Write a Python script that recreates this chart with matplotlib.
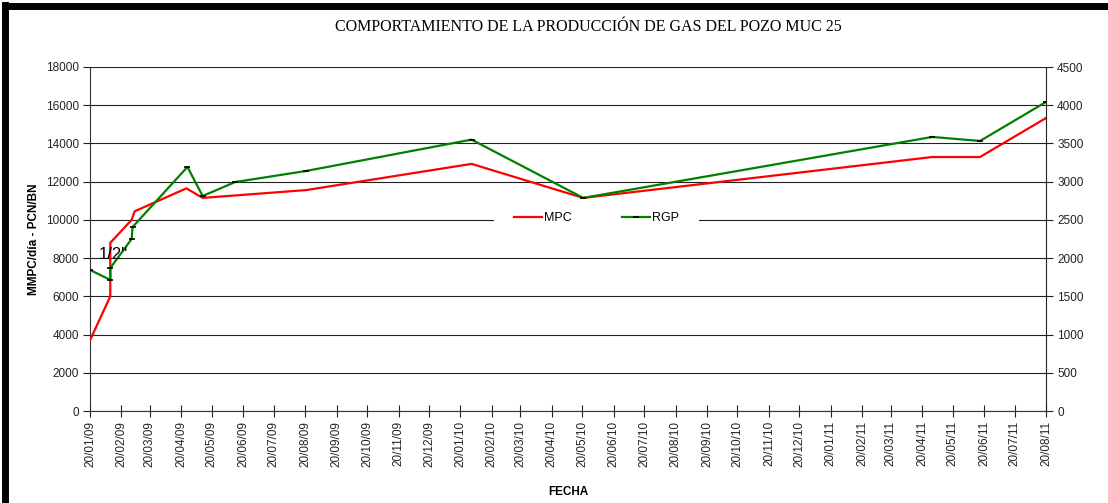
import matplotlib
matplotlib.use("Agg")
import matplotlib.pyplot as plt
import matplotlib.dates as mdates
from matplotlib.lines import Line2D
import pandas as pd

# data
mpc_dates = ["2009-01-20", "2009-02-09", "2009-02-09", "2009-03-02", "2009-03-05",
             "2009-04-25", "2009-05-11", "2009-08-21", "2010-01-31", "2010-05-21",
             "2011-04-30", "2011-06-16", "2011-08-20"]
mpc_vals = [3700, 6000, 8800, 10000, 10450, 11650, 11150, 11560, 12930, 11150,
            13290, 13290, 15330]

rgp_dates = ["2009-01-20", "2009-02-09", "2009-02-09", "2009-03-02", "2009-03-03",
             "2009-04-26", "2009-05-11", "2009-06-12", "2009-08-21", "2010-01-31",
             "2010-05-21", "2011-04-30", "2011-06-16", "2011-08-20"]
rgp_vals = [7380, 6860, 7480, 9000, 9630, 12770, 11250, 11980, 12560, 14200,
            11150, 14340, 14130, 16170]

left_ticks = list(range(0, 18001, 2000))
right_ticks = list(range(0, 4501, 500))
x_start, x_end = "2009-01-20", "2011-08-20"

mpc_x = pd.to_datetime(mpc_dates)
rgp_x = pd.to_datetime(rgp_dates)
month_ticks = pd.date_range("2009-01-01", x_end, freq="MS") + pd.Timedelta(days=19)

fig = plt.figure(figsize=(11.08, 5.03), dpi=100)
ax = fig.add_axes([90 / 1108, 92 / 503, 956 / 1108, 344 / 503])

h1, = ax.plot(mpc_x, mpc_vals, color="#ff0000", lw=1.6, label="MPC", zorder=3)
h2, = ax.plot(rgp_x, rgp_vals, color="#008000", lw=1.6, label="RGP", zorder=4,
              marker="_", markersize=4, markeredgecolor="black", markeredgewidth=1.2)

ax.set_xlim(pd.Timestamp(x_start), pd.Timestamp(x_end))
ax.set_ylim(0, 18000)
ax.set_yticks(left_ticks)
ax.set_xticks(month_ticks)
ax.xaxis.set_major_formatter(mdates.DateFormatter("%d/%m/%y"))
ax.grid(axis="y", color="#222222", lw=0.8)
ax.set_axisbelow(True)

for s in ["top", "right"]:
    ax.spines[s].set_visible(False)
ax.spines["left"].set_color("#333333")
ax.spines["bottom"].set_color("#333333")

ax.tick_params(axis="y", labelsize=8.5, length=5, width=0.8, colors="#222222", pad=3)
ax.tick_params(axis="x", labelsize=8.5, length=8, width=0.8, direction="inout",
               colors="#222222", labelrotation=90, pad=3)
for lab in ax.get_xticklabels() + ax.get_yticklabels():
    lab.set_family("Liberation Sans")

ax2 = ax.twinx()
ax2.set_ylim(0, 4500)
ax2.set_yticks(right_ticks)
for s in ["top", "left", "bottom"]:
    ax2.spines[s].set_visible(False)
ax2.spines["right"].set_color("#222222")
ax2.tick_params(axis="y", labelsize=8.5, length=5, width=0.8, colors="#222222", pad=3)
for lab in ax2.get_yticklabels():
    lab.set_family("Liberation Sans")

ax.set_ylabel("MMPC/día - PCN/BN", fontsize=8.5, fontweight="bold",
              family="Liberation Sans", labelpad=4)
fig.text(568 / 1108, 1 - 492 / 503, "FECHA", ha="center", va="center",
         fontsize=8.5, fontweight="bold", family="Liberation Sans")

ax.text(pd.Timestamp("2009-01-29"), 8200, '1/2"', fontsize=12, ha="left",
        va="center", family="Liberation Sans", zorder=5)

leg = ax.legend(handles=[h1, h2], loc="center", bbox_to_anchor=(0.53, 0.561), ncol=2,
                prop={"family": "Liberation Sans", "size": 9},
                frameon=True, fancybox=False, edgecolor="white", facecolor="white",
                framealpha=1, handlelength=2.2, handletextpad=0.2,
                columnspacing=4.0, borderpad=1.6, borderaxespad=0)
leg.get_frame().set_linewidth(0)
leg.set_zorder(2.5)

fig.text(588 / 1108, 1 - 27 / 503,
         "COMPORTAMIENTO DE LA PRODUCCIÓN DE GAS DEL POZO MUC 25",
         ha="center", va="center", fontsize=11.5, family="Liberation Serif")

# thick frame on left and top edges
fig.add_artist(Line2D([5 / 1108, 5 / 1108], [0, 1 - 5 / 503], color="black",
                      lw=5, transform=fig.transFigure, solid_capstyle="projecting"))
fig.add_artist(Line2D([5 / 1108, 1], [1 - 6 / 503, 1 - 6 / 503], color="black",
                      lw=5, transform=fig.transFigure, solid_capstyle="projecting"))

fig.savefig("out.png", dpi=100)
